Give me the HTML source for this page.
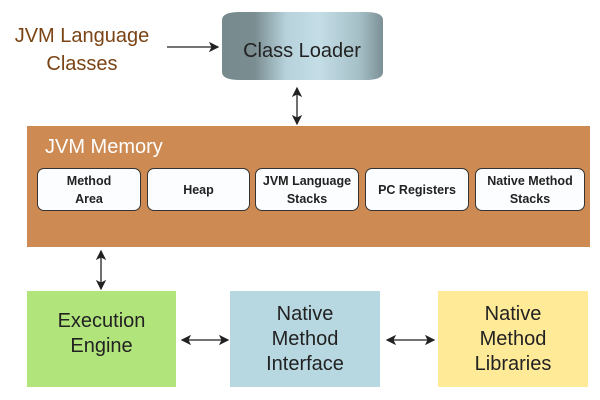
<!DOCTYPE html>
<html><head><style>
body{margin:0;width:600px;height:400px;background:#fff;position:relative;overflow:hidden;font-family:"Liberation Sans",sans-serif}
.a{position:absolute}
.sub{position:absolute;top:168px;height:43px;background:#fbfdff;border:1.5px solid #333;border-radius:7px;box-sizing:border-box;display:flex;align-items:center;justify-content:center;text-align:center;font-weight:bold;font-size:12.5px;line-height:18px;color:#222}
.big{position:absolute;top:291px;height:96px;display:flex;align-items:center;justify-content:center;text-align:center;font-size:20px;line-height:25px;color:#222}
</style></head><body>
<div class="a" style="left:10px;top:22px;font-size:20px;color:#7a4415;line-height:28px;text-align:center;width:144px">JVM Language<br>Classes</div>
<svg class="a" style="left:0;top:0" width="600" height="400">
<defs>
<linearGradient id="g" x1="0" x2="1"><stop offset="0" stop-color="#778a8d"/><stop offset="0.2" stop-color="#7a8d90"/><stop offset="0.4" stop-color="#b7d2dc"/><stop offset="0.6" stop-color="#c4dde6"/><stop offset="0.85" stop-color="#a6c0c8"/><stop offset="1" stop-color="#7c9096"/></linearGradient>
<marker id="m" markerWidth="8" markerHeight="8" refX="7" refY="4" orient="auto-start-reverse"><path d="M0,0 L8,4 L0,8 L2,4z" fill="#222"/></marker>
</defs>
<path d="M222,20 Q222,12 240,12 L365,12 Q383,12 383,20 L383,72 Q383,80 365,80 L240,80 Q222,80 222,72Z" fill="url(#g)"/>
<text x="302" y="57" font-size="20" text-anchor="middle" fill="#222" font-family="Liberation Sans">Class Loader</text>
<line x1="167" y1="47" x2="218" y2="47" stroke="#222" stroke-width="1.3" marker-end="url(#m)"/>
<line x1="297" y1="88" x2="297" y2="124" stroke="#222" stroke-width="1.3" marker-start="url(#m)" marker-end="url(#m)"/>
<rect x="27" y="126" width="563" height="121" fill="#cd8a52"/>
<text x="45" y="153" font-size="20" fill="#fff" font-family="Liberation Sans">JVM Memory</text>
<line x1="101" y1="251" x2="101" y2="289" stroke="#222" stroke-width="1.3" marker-start="url(#m)" marker-end="url(#m)"/>
<line x1="182" y1="340" x2="228" y2="340" stroke="#222" stroke-width="1.3" marker-start="url(#m)" marker-end="url(#m)"/>
<line x1="387" y1="340" x2="434" y2="340" stroke="#222" stroke-width="1.3" marker-start="url(#m)" marker-end="url(#m)"/>
</svg>
<div class="sub" style="left:37px;width:104px">Method<br>Area</div>
<div class="sub" style="left:147px;width:103px">Heap</div>
<div class="sub" style="left:255px;width:104px">JVM Language<br>Stacks</div>
<div class="sub" style="left:365px;width:104px">PC Registers</div>
<div class="sub" style="left:475px;width:110px">Native Method<br>Stacks</div>
<div class="big" style="left:27px;width:149px;background:#b1e47b;padding-bottom:10px;box-sizing:border-box">Execution<br>Engine</div>
<div class="big" style="left:230px;width:150px;background:#b7d7e1">Native<br>Method<br>Interface</div>
<div class="big" style="left:438px;width:150px;background:#ffea97">Native<br>Method<br>Libraries</div>
</body></html>
